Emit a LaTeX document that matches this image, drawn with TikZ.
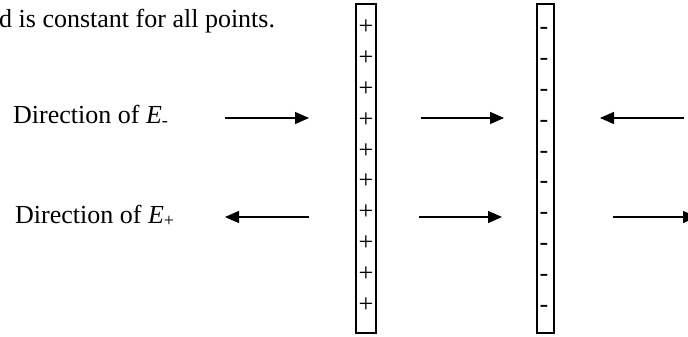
\documentclass[tikz,border=0pt]{standalone}
\usepackage{fontspec}
\setmainfont{Liberation Serif}
\usetikzlibrary{arrows.meta}
\tikzset{
  lbl/.style={inner sep=0pt, anchor=base west, font=\fontsize{26}{30}\selectfont},
  plate/.style={draw, line width=1.8pt, inner sep=0pt},
  sign/.style={inner sep=0pt, anchor=base west, font=\fontsize{26}{30}\selectfont},
  field/.style={line width=1.4pt, -{Triangle[length=14pt,width=12pt]}}
}
\begin{document}
\begin{tikzpicture}[x=1pt,y=-1pt]
\useasboundingbox (0,0) rectangle (688,337);
% top text
\node[lbl] (top) at (-1,28) {d is constant for all points.};
% labels
\node[lbl] (lminus) at (13,123) {Direction of \textit{E}\textsubscript{-}};
\node[lbl] (lplus) at (15,223) {Direction of \textit{E}\textsubscript{+}};
% plates
\draw[plate] (356,4) rectangle (376,333);
\draw[plate] (537,4) rectangle (554,333);
\node[inner sep=0pt] (pos) at (366,168.5) {};
\node[inner sep=0pt] (neg) at (545.5,168.5) {};
% signs
\foreach \i in {0,...,9}{
  \node[sign] (p\i) at (358.5,{35+\i*30.78}) {+};
  \node[sign] (m\i) at (539.5,{35+\i*30.78}) {-};
}
% arrow coordinates
\coordinate (a1s) at (225,118); \coordinate (a1e) at (309,118);
\coordinate (a2s) at (309,217); \coordinate (a2e) at (225,217);
\coordinate (b1s) at (421,118); \coordinate (b1e) at (504,118);
\coordinate (b2s) at (419,217); \coordinate (b2e) at (502,217);
\coordinate (c1s) at (684,118); \coordinate (c1e) at (600,118);
\coordinate (c2s) at (613,217); \coordinate (c2e) at (697,217);
\draw[field] (a1s) -- (a1e);
\draw[field] (a2s) -- (a2e);
\draw[field] (b1s) -- (b1e);
\draw[field] (b2s) -- (b2e);
\draw[field] (c1s) -- (c1e);
\draw[field] (c2s) -- (c2e);
\end{tikzpicture}
\end{document}
